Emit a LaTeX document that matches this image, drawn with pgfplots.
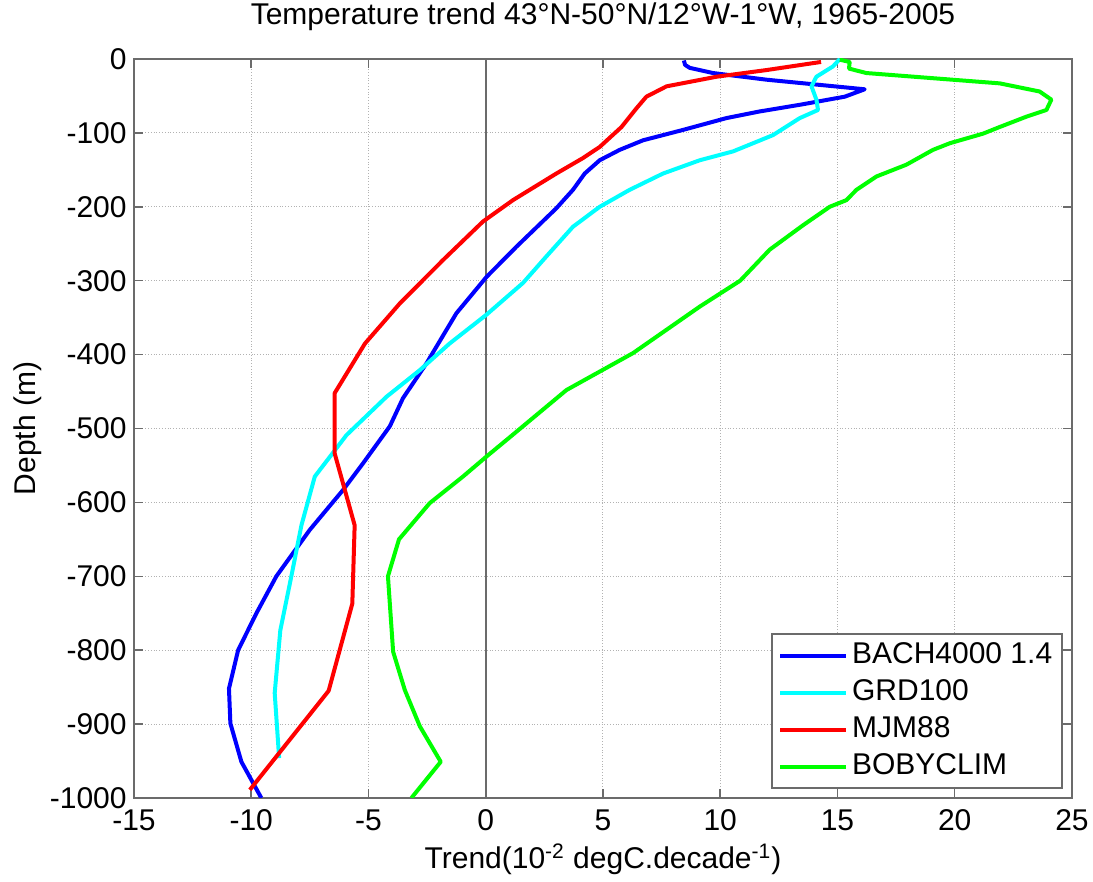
\documentclass[border=0pt]{standalone}
\usepackage{fontspec}
\setmainfont{Liberation Sans}
\usepackage{pgfplots}
\pgfplotsset{compat=1.18}
\definecolor{axgray}{gray}{0.42}
\begin{document}
\fontsize{15pt}{17pt}\selectfont
\begin{tikzpicture}
\path[use as bounding box] (-67pt,-42pt) rectangle (479.5pt,399pt);
\begin{axis}[
  scale only axis, width=469pt, height=369.5pt,
  at={(0,0)}, anchor=south west,
  xmin=-15, xmax=25, ymin=-1000, ymax=0,
  xtick={-15,-10,...,25},
  xticklabels={-15,-10,-5,0,5,10,15,20,25},
  ytick={-1000,-900,...,0},
  yticklabels={-1000,-900,-800,-700,-600,-500,-400,-300,-200,-100,0},
  tick align=inside, major tick length=4.5pt,
  grid=major,
  major grid style={densely dotted, black!30, line width=0.5pt},
  axis line style={axgray, line width=0.75pt},
  every tick/.style={axgray, line width=0.75pt},
  xticklabel style={inner sep=0pt, yshift=-5.5pt},
  yticklabel style={inner sep=0pt, xshift=-3.5pt},
  title={Temperature trend 43°N-50°N/12°W-1°W, 1965-2005},
  title style={at={(0.5,1)}, anchor=base, yshift=11pt, inner sep=0pt},
  xlabel={Trend(10\textsuperscript{-2} degC.decade\textsuperscript{-1})},
  xlabel style={at={(axis description cs:0.5,-0.083)}, anchor=center, inner sep=0pt},
  ylabel={Depth (m)},
  ylabel style={at={(axis description cs:-0.113,0.5)}, anchor=center, inner sep=0pt},
  legend cell align=left,
  legend style={at={(0.9904,0.0122)}, anchor=south east, draw=axgray,
    line width=0.75pt, fill=white, inner xsep=3pt, inner ysep=1.5pt,
    row sep=0pt,
    nodes={inner sep=2pt, text height=11pt, text depth=3.5pt}},
  legend image code/.code={\draw[#1] (0pt,0pt) -- (33pt,0pt);},
  every axis plot/.append style={line width=2pt, line join=round},
]
% zero line
\addplot[axgray, line width=1pt, forget plot] coordinates {(0,-1000) (0,0)};

% BACH4000 1.4
\addplot[color={rgb,1:red,0;green,0;blue,1}] coordinates {
(8.45,-2) (8.5,-8) (8.7,-12) (9.69,-19) (11.97,-28) (16.16,-41) (15.31,-51)
(13.39,-62) (11.68,-71) (10.26,-80) (8.41,-96) (6.71,-110) (5.71,-123)
(4.86,-137) (4.22,-155) (3.72,-177) (3.01,-202) (1.31,-254) (0.03,-295)
(-1.25,-344) (-2.53,-412) (-3.53,-459) (-4.09,-497) (-5.23,-547) (-6.08,-583)
(-7.5,-637) (-8.93,-700) (-9.78,-750) (-10.56,-800) (-10.95,-852)
(-10.89,-899) (-10.42,-951) (-9.57,-1000)};

% GRD100
\addplot[color={rgb,1:red,0;green,1;blue,1}] coordinates {
(15.1,0) (14.81,-10) (14.10,-24) (13.89,-37) (14.10,-55) (14.17,-69)
(13.39,-80) (12.25,-103) (10.55,-125) (9.13,-137) (7.56,-155) (6.14,-177)
(4.86,-200) (3.72,-227) (2.59,-267) (1.59,-303) (0.03,-346) (-1.54,-385)
(-2.81,-421) (-4.23,-457) (-5.94,-509) (-7.29,-565) (-7.86,-631)
(-8.29,-700) (-8.76,-773) (-9.0,-858) (-8.81,-946)};

% MJM88
\addplot[color={rgb,1:red,1;green,0;blue,0}] coordinates {
(14.3,-4) (11.97,-15) (9.84,-24) (7.71,-37) (6.85,-51) (6.42,-67)
(5.79,-92) (4.86,-119) (4.15,-134) (3.01,-155) (1.16,-191) (-0.12,-220)
(-1.82,-272) (-3.67,-331) (-5.15,-385) (-6.44,-452) (-6.44,-534)
(-5.59,-631) (-5.69,-737) (-6.70,-855) (-10.06,-989)};

% BOBYCLIM
\addplot[color={rgb,1:red,0;green,1;blue,0}] coordinates {
(15.10,-1) (15.52,-4) (15.49,-13) (16.23,-19) (19.07,-26) (21.92,-33)
(23.62,-44) (24.12,-55) (23.91,-69) (23.06,-78) (21.92,-92) (21.21,-101)
(19.79,-114) (19.07,-123) (17.94,-143) (16.66,-159) (15.81,-177)
(15.38,-191) (14.67,-200) (13.53,-225) (12.11,-258) (10.85,-300)
(9.13,-335) (6.28,-398) (3.44,-448) (1.02,-512) (0.03,-538) (-0.97,-565)
(-2.39,-601) (-3.70,-650) (-4.17,-700) (-3.95,-802) (-3.45,-854)
(-2.81,-903) (-1.92,-951) (-3.17,-1000)};

\legend{BACH4000 1.4, GRD100, MJM88, BOBYCLIM}
\end{axis}
\end{tikzpicture}
\end{document}
